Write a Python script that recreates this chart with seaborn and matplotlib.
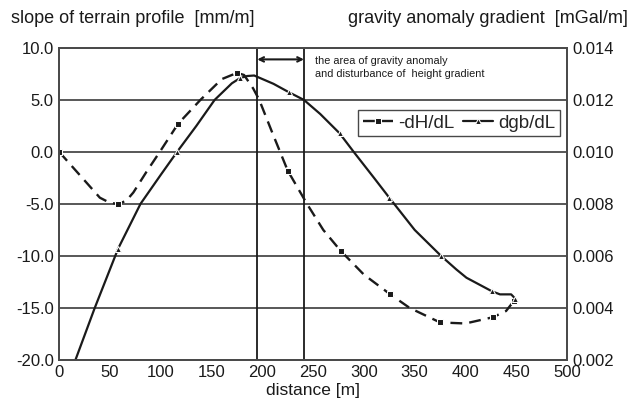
import numpy as np
import pandas as pd
import matplotlib
matplotlib.use("Agg")
import matplotlib.pyplot as plt
import seaborn as sns

# -dH/dL (slope of terrain profile) [mm/m]
dist_dh = [0, 20, 40, 50, 58, 66, 73, 86, 99, 117, 139, 160, 175, 182, 191, 197, 210, 225,
           244, 260, 277, 300, 326, 345, 375, 400, 427, 440, 448]
dh = [0.0, -2.2, -4.4, -4.9, -5.0, -4.7, -3.9, -1.9, 0.0, 2.7, 5.0, 7.0, 7.6, 7.4, 6.1, 5.0,
      1.8, -1.8, -5.0, -7.5, -9.5, -11.8, -13.7, -15.0, -16.4, -16.5, -15.9, -15.3, -14.3]
dh_marked = [0, 58, 117, 175, 225, 277, 326, 375, 427, 448]

# dgb/dL (gravity anomaly gradient) [mGal/m]
dist_dg = [16, 35, 58, 80, 100, 116, 135, 153, 170, 178, 185, 192, 211, 226, 241, 257,
           276, 290, 310, 325, 350, 376, 391, 401, 426, 434, 445, 449]
dg = [0.0020, 0.0040, 0.00628, 0.0080, 0.00912, 0.0100, 0.0110, 0.0120, 0.01264, 0.01284,
      0.01292, 0.01294, 0.01262, 0.0123, 0.0120, 0.01146, 0.01072, 0.0100, 0.0090, 0.00824,
      0.0070, 0.0060, 0.00548, 0.00516, 0.00464, 0.00452, 0.00452, 0.00436]
dg_marked = [58, 116, 178, 226, 276, 325, 376, 426, 449]

area_bounds = [195, 241]

sns.set_style("white")
plt.rcParams["font.family"] = ["Liberation Sans", "DejaVu Sans"]

df_dh = pd.DataFrame({"distance": dist_dh, "value": dh})
df_dg = pd.DataFrame({"distance": dist_dg, "value": dg})

ink = "#1a1a1a"
line_grey = "#4a4a4a"
fig, ax = plt.subplots(figsize=(6.3, 4.17), dpi=100)
fig.subplots_adjust(left=0.094, right=0.9, top=0.885, bottom=0.137)
ax2 = ax.twinx()

mk_dh = [i for i, d in enumerate(dist_dh) if d in dh_marked]
mk_dg = [i for i, d in enumerate(dist_dg) if d in dg_marked]

sns.lineplot(data=df_dh, x="distance", y="value", ax=ax, color=ink, lw=1.7,
             linestyle=(0, (5, 3)), marker="s", markersize=4, markevery=mk_dh,
             sort=False, estimator=None, label="-dH/dL", legend=False)
sns.lineplot(data=df_dg, x="distance", y="value", ax=ax2, color=ink, lw=1.6,
             marker="^", markersize=4, markevery=mk_dg,
             sort=False, estimator=None, label="dgb/dL", legend=False)

ax.set_xlim(0, 500)
ax.set_ylim(-20, 10)
ax2.set_ylim(0.002, 0.014)
ax.set_xticks(np.arange(0, 501, 50))
ax.set_yticks(np.arange(-20, 10.1, 5))
ax.set_yticklabels([f"{v:.1f}" for v in np.arange(-20, 10.1, 5)])
ax2.set_yticks(np.arange(0.002, 0.0141, 0.002))
ax2.set_yticklabels([f"{v:.3f}" for v in np.arange(0.002, 0.0141, 0.002)])
ax.grid(axis="y", color=line_grey, lw=1.3)
ax.set_axisbelow(True)
ax.tick_params(length=0, labelsize=12, colors=ink, pad=4)
ax2.tick_params(length=0, labelsize=12, colors=ink, pad=4)
for a in (ax, ax2):
    for s in a.spines.values():
        s.set_color(line_grey)
        s.set_linewidth(1.3)

ax.set_xlabel("distance [m]", fontsize=12.5, color=ink, labelpad=2)
ax.set_ylabel("")
ax2.set_ylabel("")

for b in area_bounds:
    ax.axvline(b, color=ink, lw=1.3)
ax.annotate("", xy=(area_bounds[0], 8.9), xytext=(area_bounds[1], 8.9),
            arrowprops=dict(arrowstyle="<->", color=ink, lw=1.5,
                            shrinkA=0, shrinkB=0, mutation_scale=8))
ax.text(252, 9.25, "the area of gravity anomaly\nand disturbance of  height gradient",
        fontsize=7.8, color=ink, va="top", ha="left", linespacing=1.35)

fig.text(0.018, 0.955, "slope of terrain profile  [mm/m]", fontsize=13, color=ink,
         ha="left", va="center")
fig.text(0.997, 0.955, "gravity anomaly gradient  [mGal/m]", fontsize=13, color=ink,
         ha="right", va="center")

h1, l1 = ax.get_legend_handles_labels()
h2, l2 = ax2.get_legend_handles_labels()
leg = ax2.legend(h1 + h2, l1 + l2, ncol=2, loc="upper right",
                 bbox_to_anchor=(0.986, 0.802), borderaxespad=0, fontsize=13.5,
                 frameon=True, fancybox=False, edgecolor=ink, handlelength=1.6,
                 columnspacing=0.5, handletextpad=0.25, borderpad=0.25)
leg.get_frame().set_linewidth(1.0)

fig.savefig("out.png", dpi=100)
